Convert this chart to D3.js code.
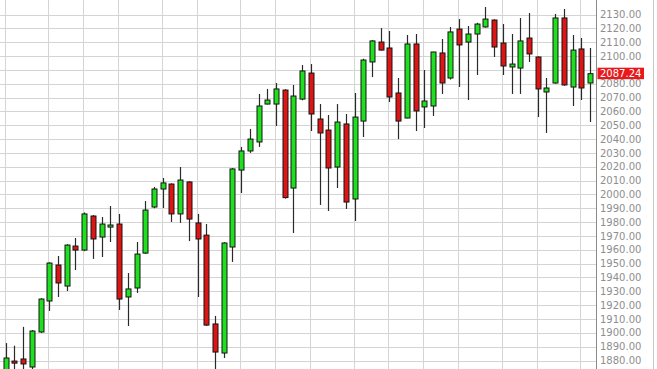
<!DOCTYPE html>
<html>
<head>
<meta charset="utf-8">
<script src="https://cdn.jsdelivr.net/npm/d3@7"></script>
<style>
  body { margin: 0; background: #fff; }
  .grid line { stroke: #d4d4d4; stroke-width: 1; shape-rendering: crispEdges; }
  .price-label { font-family: "DejaVu Sans", Verdana, sans-serif; font-size: 10px; fill: #8e8e8e; }
  .last-label { font-family: "DejaVu Sans", Verdana, sans-serif; font-size: 10px; fill: #fff; }
</style>
</head>
<body>
<div id="chart"></div>
<script>
// weekly candles, first week starting 2014-04-28
const firstWeek = '2014-04-28';
const weekCount = 68;
// weeks that carry a month gridline
const monthWeeks = ['2014-04-28', '2014-06-02', '2014-06-30', '2014-07-28', '2014-09-01', '2014-09-29',
  '2014-11-03', '2014-12-01', '2014-12-29', '2015-02-02', '2015-03-02', '2015-03-30',
  '2015-04-27', '2015-06-01', '2015-06-29', '2015-08-03'];

const openValues = [1872, 1879.6, 1881.1, 1875.3, 1900.6, 1923.0, 1949.0, 1933.8, 1962.7, 1959.8,
  1984.4, 1969.2, 1976.4, 1978.6, 1925.9, 1932.4, 1957.6, 1990.9, 2003.9, 2007.5,
  1985.9, 2009.0, 1979.4, 1970.6, 1906.4, 1885.4, 1962.0, 2017.6, 2031.4, 2037.9,
  2065.3, 2065.3, 2075.4, 2004.6, 2068.9, 2087.7, 2054.5, 2046.5, 2019.8, 2050.9,
  1996.7, 2053.0, 2095.7, 2110.1, 2105.8, 2073.3, 2055.2, 2108.7, 2063.2, 2063.9,
  2102.2, 2084.1, 2119.5, 2110.1, 2115.9, 2121.0, 2126.0, 2109.4, 2092.1, 2091.3,
  2113.0, 2099.3, 2074.0, 2080.5, 2127.5, 2077.6, 2105.1, 2080.5];
const highValues = [1892.6, 1890.7, 1904.3, 1902, 1925, 1951, 1955.5, 1964, 1968.5, 1987,
  1985, 1983.7, 1991.6, 1985.9, 1943.2, 1965.6, 1995.2, 2005.4, 2011.9, 2008,
  2019.8, 2009.5, 1985.9, 1978.6, 1912.2, 1965.5, 2019, 2034.3, 2047.3, 2072.6,
  2076.2, 2080.5, 2076, 2079.1, 2093.5, 2094.2, 2065.3, 2057.4, 2065.3, 2058.1,
  2073.3, 2098, 2111.5, 2120.2, 2118.1, 2084.1, 2115.2, 2115.9, 2089.9, 2103,
  2112.3, 2121.0, 2126.7, 2121.7, 2124, 2135.4, 2126.5, 2123.1, 2115.9, 2127.5,
  2131.1, 2099.8, 2084.1, 2130.4, 2134.0, 2115.2, 2113.0, 2105.8];
const lowValues = [1869.5, 1870, 1870, 1873, 1900, 1915.8, 1925.9, 1930.2, 1945.4, 1959,
  1953.4, 1954.8, 1965.6, 1916.5, 1904.9, 1928.8, 1957, 1990, 1990.2, 1980.1,
  1979.4, 1966.3, 1925.9, 1905, 1820, 1881.8, 1951.2, 2001.0, 2030, 2034.3,
  2065, 2049.4, 1997, 1972.1, 2068, 2045.8, 1992.4, 1988.0, 2004.6, 1989.5,
  1980.8, 2041.5, 2084.8, 2104, 2066.8, 2040.0, 2055, 2045.8, 2048.0, 2056.7,
  2072.6, 2083, 2077.6, 2068.2, 2086.3, 2120.5, 2099.3, 2086.3, 2072.6, 2072.6,
  2095.7, 2055.9, 2044.4, 2080, 2078.5, 2063.9, 2068.2, 2052.3];
const closeValues = [1881.8, 1878.1, 1877.5, 1901.3, 1924.4, 1950.4, 1936.0, 1963.4, 1959.8, 1985.9,
  1967.8, 1978.6, 1977.9, 1924.4, 1931.7, 1956.9, 1988.7, 2003.9, 2008.3, 1985.9,
  2010.4, 1982.2, 1967.8, 1905.6, 1886.1, 1964.9, 2018.4, 2031.4, 2040.0, 2063.9,
  2068.2, 2076.2, 1997.7, 2071.1, 2089.2, 2058.1, 2044.4, 2019.1, 2052.3, 1994.5,
  2055.9, 2097.1, 2110.9, 2104.3, 2070.4, 2053.0, 2108.7, 2060.3, 2067.5, 2102.9,
  2080.5, 2117.4, 2108.0, 2115.9, 2123.1, 2126.7, 2106.5, 2092.8, 2094.2, 2110.9,
  2101.5, 2076.2, 2076.9, 2127.5, 2079.1, 2104.3, 2076.9, 2087.24];

const priceTicks = d3.range(1880, 2131, 10);
const lastPrice = 2087.24;

const width = 657;
const height = 369;
const plotRight = 596;

const parseDay = d3.timeParse('%Y-%m-%d');
const formatDay = d3.timeFormat('%Y-%m-%d');
const start = parseDay(firstWeek);
const weeks = d3.timeMonday.range(start, d3.timeMonday.offset(start, weekCount)).map(formatDay);

const candles = weeks.map((week, i) => ({
  week,
  open: openValues[i],
  high: highValues[i],
  low: lowValues[i],
  close: closeValues[i],
}));

const x = d3.scalePoint()
  .domain(weeks)
  .range([5.7, 590]);

const y = d3.scaleLinear()
  .domain([1880, 2130])
  .range([360.5, 14.5]);

const svg = d3.select('#chart')
  .append('svg')
  .attr('width', width)
  .attr('height', height)
  .attr('viewBox', `0 0 ${width} ${height}`);

svg.append('rect')
  .attr('width', width)
  .attr('height', height)
  .attr('fill', '#fff');

svg.append('clipPath')
  .attr('id', 'plot-clip')
  .append('rect')
  .attr('x', 0)
  .attr('y', 0)
  .attr('width', plotRight)
  .attr('height', height);

const grid = svg.append('g').attr('class', 'grid');

grid.selectAll('.h-line')
  .data(priceTicks)
  .enter()
  .append('line')
  .attr('x1', 0)
  .attr('x2', plotRight)
  .attr('y1', (v) => Math.round(y(v)) + 0.5)
  .attr('y2', (v) => Math.round(y(v)) + 0.5);

grid.selectAll('.v-line')
  .data(monthWeeks)
  .enter()
  .append('line')
  .attr('x1', (w) => Math.round(x(w)) - 0.5)
  .attr('x2', (w) => Math.round(x(w)) - 0.5)
  .attr('y1', 0)
  .attr('y2', height);

const plot = svg.append('g').attr('clip-path', 'url(#plot-clip)');

plot.selectAll('.wick')
  .data(candles)
  .enter()
  .append('line')
  .attr('x1', (d) => Math.round(x(d.week)) + 0.5)
  .attr('x2', (d) => Math.round(x(d.week)) + 0.5)
  .attr('y1', (d) => y(d.high))
  .attr('y2', (d) => y(d.low))
  .attr('stroke', '#2a2a2a')
  .attr('stroke-width', 1.2);

plot.selectAll('.body')
  .data(candles)
  .enter()
  .append('rect')
  .attr('x', (d) => Math.round(x(d.week)) - 2)
  .attr('y', (d) => y(Math.max(d.open, d.close)))
  .attr('width', 5)
  .attr('height', (d) => Math.max(1.5, Math.abs(y(d.open) - y(d.close))))
  .attr('fill', (d) => (d.close >= d.open ? '#1fe01f' : '#dd1515'))
  .attr('stroke', '#141414')
  .attr('stroke-width', 1);

// price axis on the right
svg.append('line')
  .attr('x1', plotRight + 0.5)
  .attr('x2', plotRight + 0.5)
  .attr('y1', 0)
  .attr('y2', height)
  .attr('stroke', '#8a8a8a');

svg.append('line')
  .attr('x1', 653.5)
  .attr('x2', 653.5)
  .attr('y1', 0)
  .attr('y2', height)
  .attr('stroke', '#c8c8c8');

const lastY = y(lastPrice);

svg.selectAll('.price-label')
  .data(priceTicks.filter((v) => Math.abs(y(v) - lastY) > 8))
  .enter()
  .append('text')
  .attr('class', 'price-label')
  .attr('x', 600)
  .attr('y', (v) => y(v))
  .attr('dy', '0.36em')
  .text((v) => d3.format('.2f')(v));

svg.append('rect')
  .attr('x', 597.5)
  .attr('y', lastY - 6)
  .attr('width', 46.5)
  .attr('height', 11.5)
  .attr('fill', '#e8191b');

svg.append('text')
  .attr('class', 'last-label')
  .attr('x', 600)
  .attr('y', lastY)
  .attr('dy', '0.36em')
  .text(d3.format('.2f')(lastPrice));
</script>
</body>
</html>
